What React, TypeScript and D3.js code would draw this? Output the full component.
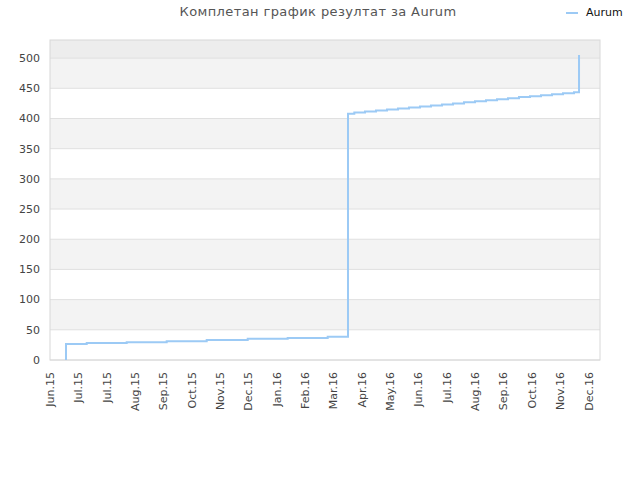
import { useEffect, useRef } from "react";
import * as d3 from "d3";

const tickLabels = [
    "Jun.15", "Jul.15", "Jul.15", "Aug.15", "Sep.15", "Oct.15", "Nov.15", "Dec.15", "Jan.16", "Feb.16",
    "Mar.16", "Apr.16", "May.16", "Jun.16", "Jul.16", "Aug.16", "Sep.16", "Oct.16", "Nov.16", "Dec.16",
];

// x positions in "tick index" units (0 = Jun.15 tick)
const pointX = [
    0.564, 0.564, 1.295, 2.705, 4.116, 5.527, 6.974, 8.384, 9.795, 10.511,
    10.734, 11.111, 11.499, 11.887, 12.275, 12.663, 13.051, 13.439, 13.827, 14.215,
    14.603, 14.991, 15.379, 15.767, 16.155, 16.543, 16.931, 17.319, 17.707, 18.095,
    18.483, 18.66,
];
const pointY = [
    0, 26.5, 28, 29.5, 31, 33, 35, 36.5, 38.5, 408,
    409.8, 411.5, 413.1, 414.8, 416.4, 418.1, 419.8, 421.4, 423.1, 424.7,
    427, 428.7, 430.4, 432, 433.7, 435.4, 437, 438.7, 440.3, 442,
    443.6, 505,
];

const yTicks = [0, 50, 100, 150, 200, 250, 300, 350, 400, 450, 500];
const seriesName = "Aurum";
const title = "Комплетан график резултат за Aurum";

const App = () => {
    const svgRef = useRef<SVGSVGElement>(null);

    useEffect(() => {
        const svg = d3.select(svgRef.current);
        svg.selectAll("*").remove();

        const width = 640;
        const height = 480;
        const left = 50, right = 600, top = 40, bottom = 360;
        const font = "'DejaVu Sans', Verdana, sans-serif";

        svg.attr("width", width).attr("height", height);

        const x = d3.scaleLinear().domain([0, 19.4]).range([left, right]);
        const y = d3.scaleLinear().domain([0, 530]).range([bottom, top]);

        // alternating bands
        const bands = d3.range(0, 530, 50);
        svg.selectAll(".band")
            .data(bands)
            .enter()
            .append("rect")
            .attr("x", left)
            .attr("width", right - left)
            .attr("y", (d) => y(Math.min(d + 50, 530)))
            .attr("height", (d) => y(d) - y(Math.min(d + 50, 530)))
            .attr("fill", (d) => (d >= 500 ? "#ededed" : (d / 50) % 2 === 1 ? "#f3f3f3" : "#ffffff"));

        svg.selectAll(".grid")
            .data(yTicks)
            .enter()
            .append("line")
            .attr("x1", left)
            .attr("x2", right)
            .attr("y1", (d) => y(d))
            .attr("y2", (d) => y(d))
            .attr("stroke", "#e0e0e0")
            .attr("stroke-width", 1);

        svg.append("rect")
            .attr("x", left)
            .attr("y", top)
            .attr("width", right - left)
            .attr("height", bottom - top)
            .attr("fill", "none")
            .attr("stroke", "#d8d8d8")
            .attr("stroke-width", 1);

        svg.selectAll(".ylab")
            .data(yTicks)
            .enter()
            .append("text")
            .attr("x", 40)
            .attr("y", (d) => y(d))
            .attr("dy", "0.35em")
            .attr("text-anchor", "end")
            .attr("font-family", font)
            .attr("font-size", 11)
            .attr("fill", "#444")
            .text((d) => d);

        svg.selectAll(".xlab")
            .data(tickLabels)
            .enter()
            .append("text")
            .attr("transform", (_d, i) => `translate(${x(i)},372) rotate(-90)`)
            .attr("dy", "0.35em")
            .attr("text-anchor", "end")
            .attr("font-family", font)
            .attr("font-size", 11)
            .attr("fill", "#444")
            .text((d) => d);

        const points = pointX.map((px, i) => [px, pointY[i]] as [number, number]);
        const line = d3
            .line<[number, number]>()
            .x((d) => x(d[0]))
            .y((d) => y(d[1]))
            .curve(d3.curveStepAfter);

        svg.append("path")
            .datum(points)
            .attr("d", line)
            .attr("fill", "none")
            .attr("stroke", "#9ccaf5")
            .attr("stroke-width", 2);

        svg.append("text")
            .attr("x", 318)
            .attr("y", 16)
            .attr("text-anchor", "middle")
            .attr("font-family", font)
            .attr("font-size", 13)
            .attr("letter-spacing", 0.4)
            .attr("fill", "#555")
            .text(title);

        svg.append("line")
            .attr("x1", 566)
            .attr("x2", 578)
            .attr("y1", 13)
            .attr("y2", 13)
            .attr("stroke", "#9ccaf5")
            .attr("stroke-width", 2);

        svg.append("text")
            .attr("x", 586)
            .attr("y", 16)
            .attr("font-family", font)
            .attr("font-size", 11)
            .attr("fill", "#111")
            .text(seriesName);
    }, []);

    return <svg ref={svgRef} style={{ position: "absolute", left: 0, top: 0 }} />;
};

export default App;
